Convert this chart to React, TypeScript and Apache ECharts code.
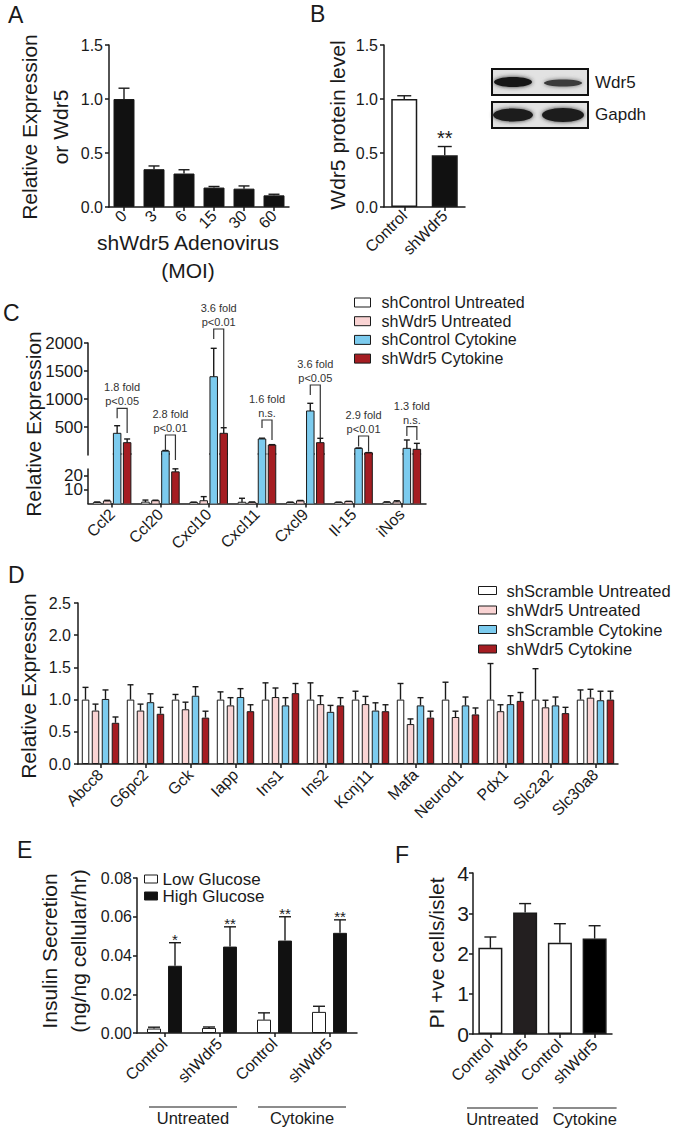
import React, { useEffect, useRef } from 'react';
import * as echarts from 'echarts';

const FONT = '"Liberation Sans", Arial, Helvetica, sans-serif';
const INK = '#1a1a1a';
const WHITE = '#ffffff';
const PINK = '#f9d3d3';
const BLUE = '#7ccbee';
const RED = '#a51d22';
const BLACK = '#111111';

// ---------- Panel A ----------
const aCategories = ['0', '3', '6', '15', '30', '60'];
const aValues = [1.0, 0.35, 0.31, 0.18, 0.17, 0.108];
const aErrTops = [1.1, 0.38, 0.345, 0.19, 0.195, 0.118];

// ---------- Panel B ----------
const bCategories = ['Control', 'shWdr5'];
const bValues = [1.0, 0.48];
const bErrTops = [1.03, 0.56];
const bMarks = ['', '**'];

// ---------- Panel C ----------
const cCategories = ['Ccl2', 'Ccl20', 'Cxcl10', 'Cxcl11', 'Cxcl9', 'Il-15', 'iNos'];
const cSeriesNames = ['shControl Untreated', 'shWdr5 Untreated', 'shControl Cytokine', 'shWdr5 Cytokine'];
const cCtrlUntreated = [0.8, 1.0, 0.8, 0.9, 0.8, 0.8, 0.9];
const cCtrlUntreatedErr = [1.1, 2.5, 1.0, 3.8, 1.0, 1.0, 1.2];
const cWdr5Untreated = [1.8, 2.0, 2.0, 0.9, 1.9, 1.4, 1.2];
const cWdr5UntreatedErr = [2.3, 2.4, 5.0, 1.1, 2.2, 1.6, 2.0];
const cCtrlCytokine = [387, 71, 1398, 286, 786, 119, 119];
const cCtrlCytokineErr = [523, 80, 1905, 300, 923, 125, 268];
const cWdr5Cytokine = [220, 23, 387, 179, 220, 41, 101];
const cWdr5CytokineErr = [286, 25.2, 487, 185, 298, 43, 208];
const cFoldLabels = ['1.8 fold', '2.8 fold', '3.6 fold', '1.6 fold', '3.6 fold', '2.9 fold', '1.3 fold'];
const cPLabels = ['p<0.05', 'p<0.01', 'p<0.01', 'n.s.', 'p<0.05', 'p<0.01', 'n.s.'];
const cBracketTop = [834, 357, 2250, 625, 1250, 339, 506];
const cBracketLeftEnd = [655, 80, 2070, 482, 1070, 150, 339];
const cBracketRightEnd = [393, -90, 500, 268, 300, 60, 268];

// ---------- Panel D ----------
const dCategories = ['Abcc8', 'G6pc2', 'Gck', 'Iapp', 'Ins1', 'Ins2', 'Kcnj11', 'Mafa', 'Neurod1', 'Pdx1', 'Slc2a2', 'Slc30a8'];
const dSeriesNames = ['shScramble Untreated', 'shWdr5 Untreated', 'shScramble Cytokine', 'shWdr5 Cytokine'];
const dScrUntreated = [1, 1, 1, 1, 1, 1, 1, 1, 1, 1, 1, 1];
const dScrUntreatedErr = [1.19, 1.23, 1.08, 1.12, 1.26, 1.26, 1.13, 1.25, 1.27, 1.56, 1.48, 1.15];
const dWdr5Untreated = [0.83, 0.83, 0.85, 0.91, 1.04, 0.93, 0.93, 0.62, 0.73, 0.82, 0.88, 1.03];
const dWdr5UntreatedErr = [0.93, 0.93, 0.96, 1.03, 1.18, 1.06, 1.05, 0.7, 0.82, 0.92, 0.99, 1.16];
const dScrCytokine = [1.01, 0.96, 1.06, 1.04, 0.91, 0.81, 0.83, 0.91, 0.91, 0.93, 0.91, 0.99];
const dScrCytokineErr = [1.15, 1.09, 1.2, 1.17, 1.03, 0.91, 0.95, 1.03, 1.04, 1.06, 1.04, 1.13];
const dWdr5Cytokine = [0.64, 0.78, 0.72, 0.82, 1.1, 0.91, 0.82, 0.72, 0.77, 0.98, 0.79, 1.0];
const dWdr5CytokineErr = [0.73, 0.88, 0.82, 0.92, 1.25, 1.03, 0.92, 0.82, 0.87, 1.11, 0.88, 1.13];

// ---------- Panel E ----------
const eCategories = ['Control', 'shWdr5', 'Control', 'shWdr5'];
const eSeriesNames = ['Low Glucose', 'High Glucose'];
const eLow = [0.0023, 0.0026, 0.0069, 0.0109];
const eLowErr = [0.003, 0.0031, 0.0104, 0.0138];
const eHigh = [0.0347, 0.0446, 0.0477, 0.0517];
const eHighErr = [0.0466, 0.0548, 0.06, 0.0584];
const eMarks = ['*', '**', '**', '**'];
const groupSpans = [[0, 1], [2, 3]];
const groupNames = ['Untreated', 'Cytokine'];

// ---------- Panel F ----------
const fCategories = ['Control', 'shWdr5', 'Control', 'shWdr5'];
const fValues = [2.14, 3.02, 2.27, 2.37];
const fErrTops = [2.41, 3.24, 2.74, 2.69];

// ---------- styles ----------
const bColors = [WHITE, BLACK];
const fColors = [WHITE, '#231f20', WHITE, '#000000'];
const fourColors = [WHITE, PINK, BLUE, RED];
const fourOffsets = [-15, -5, 5, 15];
const C_BAR_W = 7.5;
const C_LOWER_MAX = 36.7;
const eGroupExt = [[15.5, 17.5], [16.5, 16.5]];
const fGroupExt = [[23.4, 12.8], [7, 22]];

const axisLine = { show: true, lineStyle: { color: INK, width: 1.5 } };
const axisTick = { show: true, length: 4, lineStyle: { color: INK, width: 1.5 } };
const hiddenAxisParts = { axisLine: { show: false }, axisTick: { show: false }, axisLabel: { show: false }, splitLine: { show: false } };

function catAxis(gridIndex: number, data: string[], margin = 8) {
  return {
    type: 'category', gridIndex, data,
    axisLine, axisTick: { ...axisTick, alignWithLabel: true },
    splitLine: { show: false },
    axisLabel: { rotate: 45, interval: 0, fontSize: 16, fontFamily: FONT, color: INK, margin },
  };
}
function valAxis(gridIndex: number, min: number, max: number, interval: number, fontSize: number, digits: number, margin: number, labelExtra: any = {}) {
  return {
    type: 'value', gridIndex, min, max, interval,
    axisLine, axisTick, splitLine: { show: false },
    axisLabel: { fontSize, fontFamily: FONT, color: INK, margin, formatter: (v: number) => v.toFixed(digits), ...labelExtra },
  };
}

function barSeries(gi: number, name: string | undefined, data: any[], color: string, barWidth: number, barGap = '33%', bw = 1) {
  return {
    type: 'bar', name, xAxisIndex: gi, yAxisIndex: gi, data, barWidth, barGap,
    itemStyle: { color, borderColor: INK, borderWidth: bw }, z: 2, silent: true,
  };
}

// Bars of the broken-axis panel C, drawn through each grid's own scale
function brokenBars(gi: number, name: string | undefined, values: number[], k: number, part: 'upper' | 'lower') {
  const color = fourColors[k];
  return {
    type: 'custom', name, xAxisIndex: gi, yAxisIndex: gi, silent: true, clip: false, z: 2,
    itemStyle: { color, borderColor: INK, borderWidth: 1 },
    data: values.map((v, i) => [i, v]),
    renderItem: (params: any, api: any) => {
      const i = api.value(0);
      const v = api.value(1);
      const capped = v > C_LOWER_MAX;
      if (part === 'upper' && !capped) return null;
      const vt = part === 'lower' ? Math.min(v, C_LOWER_MAX) : v;
      const p0 = api.coord([i, 0]);
      const p1 = api.coord([i, vt]);
      const x0 = p0[0] + fourOffsets[k] - C_BAR_W / 2;
      const x1 = x0 + C_BAR_W;
      const children: any[] = [
        { type: 'rect', shape: { x: x0, y: p1[1], width: C_BAR_W, height: p0[1] - p1[1] }, style: { fill: color } },
      ];
      const ls = { stroke: INK, lineWidth: 1, fill: 'none' };
      if (part === 'lower' && capped) {
        children.push({ type: 'line', shape: { x1: x0, y1: p0[1], x2: x0, y2: p1[1] }, style: ls });
        children.push({ type: 'line', shape: { x1: x1, y1: p0[1], x2: x1, y2: p1[1] }, style: ls });
      } else {
        children.push({ type: 'polyline', shape: { points: [[x0, p0[1]], [x0, p1[1]], [x1, p1[1]], [x1, p0[1]]] }, style: ls });
      }
      return { type: 'group', children };
    },
  };
}

function errorBars(gi: number, values: number[], tops: number[], offset: number, cap: number,
  range: [number, number] = [-Infinity, Infinity], marks?: string[], markSize = 16, markDy = 0) {
  return {
    type: 'custom', xAxisIndex: gi, yAxisIndex: gi, silent: true, clip: false, z: 4,
    data: values.map((v, i) => [i, v, tops[i]]),
    renderItem: (params: any, api: any) => {
      const i = api.value(0);
      const v = api.value(1);
      const t = api.value(2);
      if (!(t > range[0] && t <= range[1])) return null;
      const p0 = api.coord([i, v]);
      const p1 = api.coord([i, t]);
      const x = p0[0] + offset;
      const children: any[] = [
        { type: 'line', shape: { x1: x, y1: p0[1], x2: x, y2: p1[1] }, style: { stroke: INK, lineWidth: 1.4 } },
        { type: 'line', shape: { x1: x - cap / 2, y1: p1[1], x2: x + cap / 2, y2: p1[1] }, style: { stroke: INK, lineWidth: 1.4 } },
      ];
      const m = marks ? marks[params.dataIndex] : '';
      if (m) {
        children.push({ type: 'text', style: { x, y: p1[1] + markDy, text: m, fontSize: markSize, fontFamily: FONT, fill: INK, align: 'center', verticalAlign: 'middle' } });
      }
      return { type: 'group', children };
    },
  };
}

function groupLabels(gi: number, ext: number[][]) {
  return {
    type: 'custom', xAxisIndex: gi, yAxisIndex: gi, silent: true, clip: false, z: 5,
    data: groupSpans,
    renderItem: (params: any, api: any) => {
      const a = api.coord([api.value(0), 0]);
      const b = api.coord([api.value(1), 0]);
      const e = ext[params.dataIndex];
      const xs = a[0] - e[0];
      const xe = b[0] + e[1];
      const y = a[1] + 74;
      return {
        type: 'group', children: [
          { type: 'line', shape: { x1: xs, y1: y, x2: xe, y2: y }, style: { stroke: INK, lineWidth: 1.2 } },
          { type: 'text', style: { x: (xs + xe) / 2, y: y + 2, text: groupNames[params.dataIndex], fontSize: 16.5, fontFamily: FONT, fill: INK, align: 'center', verticalAlign: 'top' } },
        ],
      };
    },
  };
}

function bracketSeries() {
  return {
    type: 'custom', xAxisIndex: 2, yAxisIndex: 2, silent: true, clip: false, z: 6,
    data: cCategories.map((_, i) => [i, cBracketTop[i], cBracketLeftEnd[i], cBracketRightEnd[i]]),
    renderItem: (params: any, api: any) => {
      const i = api.value(0);
      const top = api.coord([i, api.value(1)]);
      const l = api.coord([i, api.value(2)]);
      const r = api.coord([i, api.value(3)]);
      const xL = top[0] + fourOffsets[2];
      const xR = top[0] + fourOffsets[3];
      const cx = (xL + xR) / 2;
      const ts = { fontSize: 11, fontFamily: FONT, fill: '#333', align: 'center', verticalAlign: 'middle' };
      return {
        type: 'group', children: [
          { type: 'polyline', shape: { points: [[xL, l[1]], [xL, top[1]], [xR, top[1]], [xR, r[1]]] }, style: { stroke: '#333', fill: 'none', lineWidth: 1.2 } },
          { type: 'text', style: { ...ts, x: cx, y: top[1] - 21, text: cFoldLabels[params.dataIndex] } },
          { type: 'text', style: { ...ts, x: cx, y: top[1] - 7, text: cPLabels[params.dataIndex] } },
        ],
      };
    },
  };
}

function letter(t: string, x: number, y: number) {
  return { type: 'text', x, y, style: { text: t, fontSize: 23, fontFamily: FONT, fill: INK, align: 'left', verticalAlign: 'middle' } };
}
function vTitle(t: string, x: number, y: number, lineHeight = 24) {
  return { type: 'text', x, y, rotation: Math.PI / 2, style: { text: t, fontSize: 21, lineHeight, fontFamily: FONT, fill: INK, align: 'center', verticalAlign: 'middle' } };
}
function hTitle(t: string, x: number, y: number, lineHeight = 24) {
  return { type: 'text', x, y, style: { text: t, fontSize: 21, lineHeight, fontFamily: FONT, fill: INK, align: 'center', verticalAlign: 'middle' } };
}

function buildOption() {
  const grids = [
    { left: 109, top: 45, width: 180, height: 162 },
    { left: 384, top: 45, width: 81, height: 162 },
    { left: 88, top: 343, width: 338, height: 112 },
    { left: 88, top: 453, width: 338, height: 50.5 },
    { left: 88, top: 469, width: 338, height: 34.5 },
    { left: 78, top: 603, width: 540, height: 161 },
    { left: 137, top: 878, width: 220, height: 155 },
    { left: 473, top: 873, width: 139, height: 161 },
  ].map((g) => ({ ...g, containLabel: false, outerBoundsMode: 'none' }));

  const xAxis = [
    catAxis(0, aCategories, 6),
    catAxis(1, bCategories, 6),
    { type: 'category', gridIndex: 2, data: cCategories, show: false, ...hiddenAxisParts },
    catAxis(3, cCategories, 8),
    { type: 'value', gridIndex: 4, show: false, min: 0, max: 1, ...hiddenAxisParts },
    catAxis(5, dCategories, 8),
    catAxis(6, eCategories, 8),
    catAxis(7, fCategories, 8),
  ];
  const yAxis = [
    valAxis(0, 0, 1.5, 0.5, 16, 1, 6),
    valAxis(1, 0, 1.5, 0.5, 16, 1, 6),
    valAxis(2, 0, 2000, 500, 17, 0, 5, { showMinLabel: false }),
    { type: 'value', gridIndex: 3, show: false, min: 0, max: C_LOWER_MAX, ...hiddenAxisParts },
    valAxis(4, 0, 25, 10, 17, 0, 5, { showMaxLabel: false, lineHeight: 12 }),
    valAxis(5, 0, 2.5, 0.5, 16, 1, 7),
    valAxis(6, 0, 0.08, 0.02, 16, 2, 5),
    valAxis(7, 0, 4, 1, 21, 0, 4),
  ];

  const cVals = [cCtrlUntreated, cWdr5Untreated, cCtrlCytokine, cWdr5Cytokine];
  const cErrs = [cCtrlUntreatedErr, cWdr5UntreatedErr, cCtrlCytokineErr, cWdr5CytokineErr];
  const dVals = [dScrUntreated, dWdr5Untreated, dScrCytokine, dWdr5Cytokine];
  const dErrs = [dScrUntreatedErr, dWdr5UntreatedErr, dScrCytokineErr, dWdr5CytokineErr];

  const series: any[] = [];
  // A
  series.push(barSeries(0, undefined, aValues, BLACK, 21));
  series.push(errorBars(0, aValues, aErrTops, 0, 11));
  // B
  series.push(barSeries(1, undefined, bValues.map((v, i) => ({ value: v, itemStyle: { color: bColors[i] } })), WHITE, 26, '33%', 1.5));
  series.push(errorBars(1, bValues, bErrTops, 0, 14, undefined, bMarks, 20, -9));
  // C (broken axis)
  cVals.forEach((vals, k) => series.push(brokenBars(3, cSeriesNames[k], vals, k, 'lower')));
  [2, 3].forEach((k) => series.push(brokenBars(2, undefined, cVals[k], k, 'upper')));
  [0, 1].forEach((k) => series.push(errorBars(3, cVals[k], cErrs[k], fourOffsets[k], 6)));
  [2, 3].forEach((k) => {
    series.push(errorBars(2, cVals[k], cErrs[k], fourOffsets[k], 6, [C_LOWER_MAX, Infinity]));
    series.push(errorBars(3, cVals[k], cErrs[k], fourOffsets[k], 6, [-Infinity, C_LOWER_MAX]));
  });
  series.push(bracketSeries());
  // D
  dVals.forEach((vals, k) => series.push(barSeries(5, dSeriesNames[k], vals, fourColors[k], 7.5)));
  dVals.forEach((vals, k) => series.push(errorBars(5, vals, dErrs[k], fourOffsets[k], 6)));
  // E
  series.push(barSeries(6, eSeriesNames[0], eLow, WHITE, 14, '50%'));
  series.push(barSeries(6, eSeriesNames[1], eHigh, BLACK, 14, '50%'));
  series.push(errorBars(6, eLow, eLowErr, -10.5, 12));
  series.push(errorBars(6, eHigh, eHighErr, 10.5, 12, undefined, eMarks, 15, -3));
  series.push(groupLabels(6, eGroupExt));
  // F
  series.push(barSeries(7, undefined, fValues.map((v, i) => ({ value: v, itemStyle: { color: fColors[i] } })), WHITE, 24, '33%', 1.5));
  series.push(errorBars(7, fValues, fErrTops, 0, 12));
  series.push(groupLabels(7, fGroupExt));

  const legendText = (size: number, pad: number) => ({ fontSize: size, lineHeight: size, fontFamily: FONT, color: INK, padding: [0, 0, 0, pad] });
  const legendBase = { orient: 'vertical', icon: 'rect', selectedMode: false, padding: 0, itemStyle: { borderColor: INK, borderWidth: 1 } };
  const legend = [
    { ...legendBase, data: cSeriesNames, left: 354, top: 294.5, itemWidth: 16, itemHeight: 9, itemGap: 2.7, textStyle: legendText(16, 6) },
    { ...legendBase, data: dSeriesNames, left: 478, top: 582, itemWidth: 18, itemHeight: 8, itemGap: 2.5, textStyle: legendText(16.5, 5) },
    { ...legendBase, data: eSeriesNames, left: 144, top: 870.5, itemWidth: 13, itemHeight: 8, itemGap: 0, textStyle: legendText(17, 0) },
  ];

  const blot = [
    { type: 'rect', shape: { x: 492, y: 69, width: 96, height: 26 }, style: { fill: '#e2e2e2', stroke: '#111', lineWidth: 2 } },
    { type: 'ellipse', shape: { cx: 513, cy: 82, rx: 19, ry: 5 }, style: { fill: '#151515', shadowBlur: 4, shadowColor: '#333' } },
    { type: 'ellipse', shape: { cx: 563, cy: 83, rx: 19, ry: 3.5 }, style: { fill: '#3a3a3a', shadowBlur: 4, shadowColor: '#666' } },
    { type: 'rect', shape: { x: 492, y: 102, width: 96, height: 26 }, style: { fill: '#e2e2e2', stroke: '#111', lineWidth: 2 } },
    { type: 'ellipse', shape: { cx: 513, cy: 115, rx: 20, ry: 6.5 }, style: { fill: '#1a1a1a', shadowBlur: 4, shadowColor: '#333' } },
    { type: 'ellipse', shape: { cx: 563, cy: 115, rx: 21, ry: 7 }, style: { fill: '#1a1a1a', shadowBlur: 4, shadowColor: '#333' } },
    { type: 'text', x: 595, y: 82, style: { text: 'Wdr5', fontSize: 17, fontFamily: FONT, fill: INK, align: 'left', verticalAlign: 'middle' } },
    { type: 'text', x: 595, y: 114, style: { text: 'Gapdh', fontSize: 17, fontFamily: FONT, fill: INK, align: 'left', verticalAlign: 'middle' } },
  ];

  const graphic = {
    elements: [
      letter('A', 8, 15), letter('B', 310, 14), letter('C', 3, 312.5), letter('D', 8, 574.5), letter('E', 17, 850), letter('F', 395, 855),
      vTitle('Relative Expression\nor Wdr5', 45, 127, 31),
      vTitle('Wdr5 protein level', 337, 125),
      vTitle('Relative Expression', 33, 424),
      vTitle('Relative Expression', 28, 686),
      vTitle('Insulin Secretion\n(ng/ng cellular/hr)', 63.5, 951, 29),
      vTitle('PI +ve cells/islet', 436, 953),
      hTitle('shWdr5 Adenovirus\n(MOI)', 188, 256, 28),
      ...blot,
    ],
  };

  return {
    animation: false,
    backgroundColor: '#ffffff',
    textStyle: { fontFamily: FONT },
    grid: grids,
    xAxis,
    yAxis,
    legend,
    series,
    graphic,
  };
}

export default function App() {
  const ref = useRef<HTMLDivElement>(null);
  useEffect(() => {
    if (!ref.current) return;
    const chart = echarts.init(ref.current, null, { renderer: 'svg' });
    chart.setOption(buildOption() as any);
    return () => chart.dispose();
  }, []);
  return <div ref={ref} style={{ position: 'absolute', left: 0, top: 0, width: 673, height: 1131, background: '#fff' }} />;
}
